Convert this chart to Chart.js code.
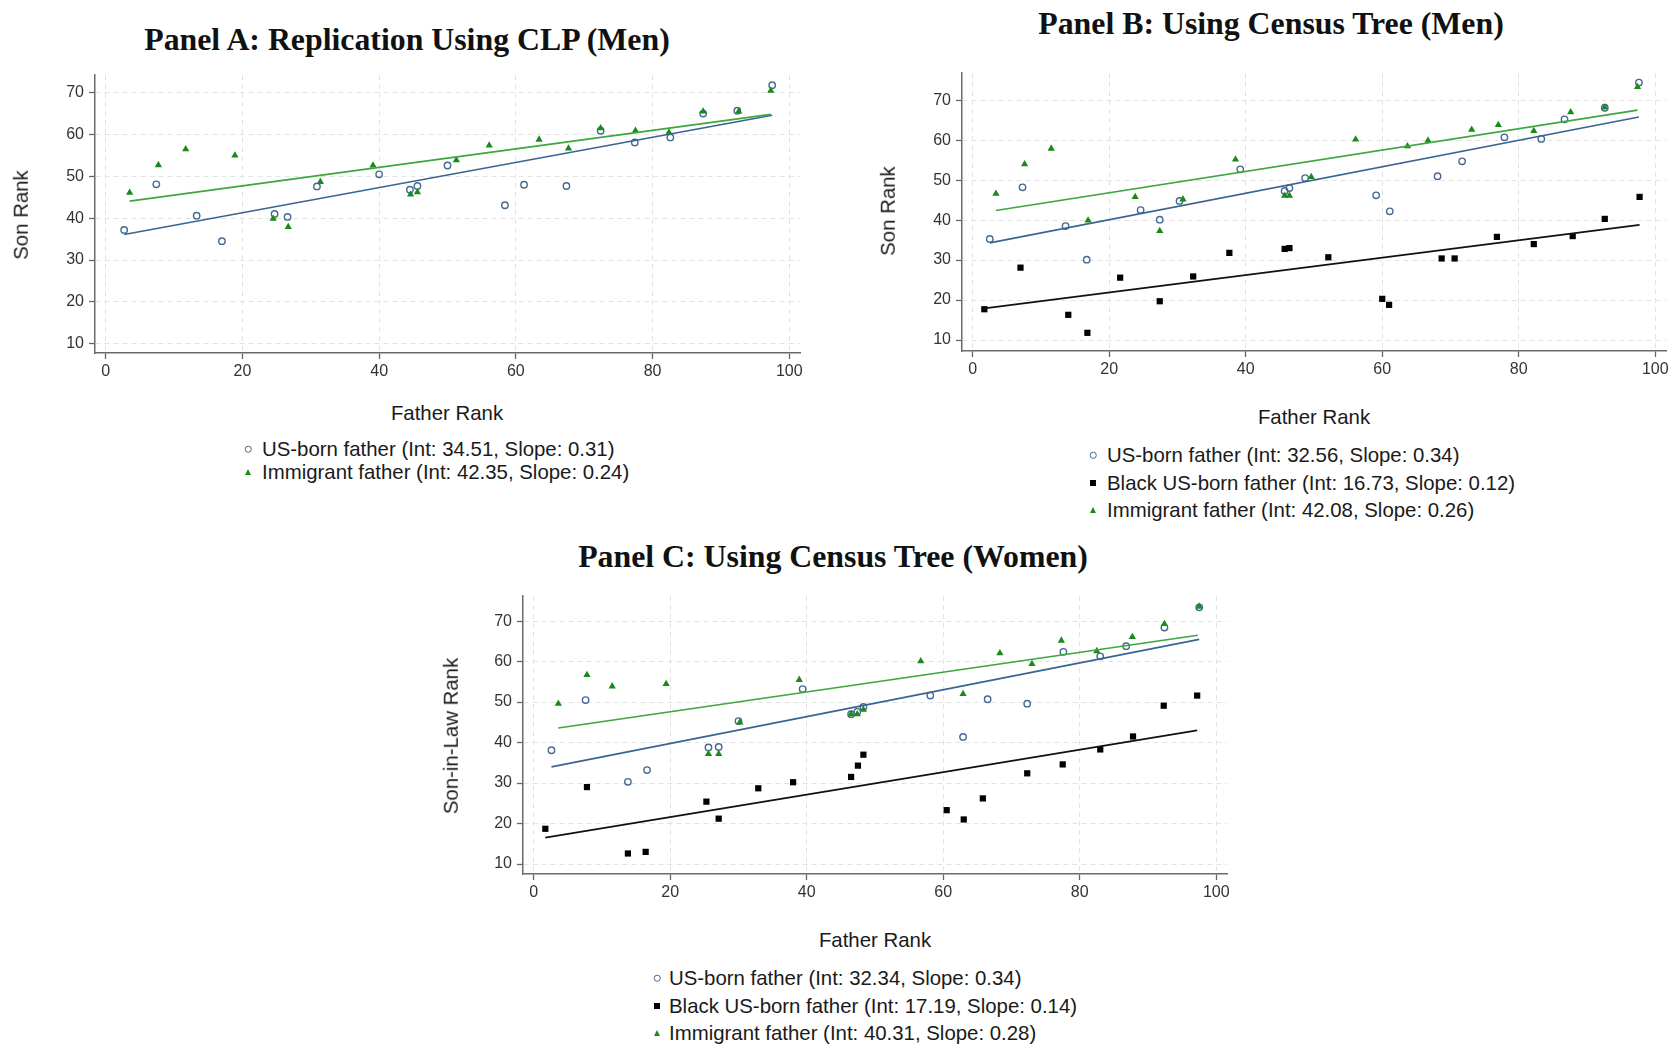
<!DOCTYPE html>
<html>
<head>
<meta charset="utf-8">
<script src="https://cdn.jsdelivr.net/npm/chart.js@4.4.1/dist/chart.umd.min.js"></script>
<style>
  body { margin: 0; background: #fff; }
  #page { position: relative; width: 1671px; height: 1044px; overflow: hidden;
          font-family: "Liberation Sans", Arial, sans-serif; color: #1a1a1a; }
  canvas { position: absolute; }
  .title { position: absolute; font-family: "Liberation Serif", "Times New Roman", serif; font-weight: bold;
           font-size: 31.8px; line-height: 1; white-space: nowrap; transform: translate(-50%, -50%); color: #111; }
  .axtitle { position: absolute; font-size: 20.4px; line-height: 1; white-space: nowrap; transform: translate(-50%, -50%); }
  .ytitle { transform: translate(-50%, -50%) rotate(-90deg); }
  .leg { position: absolute; font-size: 20.4px; line-height: 1; white-space: nowrap; transform: translateY(-50%); }
  .mk { position: absolute; transform: translate(-50%, -50%); box-sizing: border-box; }
  .mk.us { width: 6.5px; height: 6.5px; border: 1.3px solid #45698f; border-radius: 50%; }
  .mk.bl { width: 6px; height: 6px; background: #000; }
  .mk.im { width: 0; height: 0; border-left: 3.5px solid transparent; border-right: 3.5px solid transparent;
           border-bottom: 6px solid #1a8a1a; }
</style>
</head>
<body>
<div id="page">
  <div class="title" style="left:407px; top:40px;">Panel A: Replication Using CLP (Men)</div>
  <div class="title" style="left:1271px; top:24px;">Panel B: Using Census Tree (Men)</div>
  <div class="title" style="left:833px; top:557px;">Panel C: Using Census Tree (Women)</div>

  <canvas id="chartA"></canvas>
  <canvas id="chartB"></canvas>
  <canvas id="chartC"></canvas>

  <div class="axtitle ytitle" style="left:21px; top:215px;">Son Rank</div>
  <div class="axtitle ytitle" style="left:888px; top:211px;">Son Rank</div>
  <div class="axtitle ytitle" style="left:451px; top:736px;">Son-in-Law Rank</div>

  <div class="axtitle" style="left:447px; top:413px;">Father Rank</div>
  <div class="axtitle" style="left:1314px; top:417px;">Father Rank</div>
  <div class="axtitle" style="left:875px; top:940px;">Father Rank</div>

  <div id="legends"></div>
</div>

<script>
// x / y axis ticks
const xTicks = [0, 20, 40, 60, 80, 100];
const yTicks = [10, 20, 30, 40, 50, 60, 70];

// Panel A: CLP, men
const aUsX = [2.7, 7.4, 13.3, 17.0, 24.7, 26.6, 30.9, 40.0, 44.5, 45.6, 50.0, 58.4, 61.2, 67.4, 72.4, 77.4, 82.6, 87.4, 92.4, 97.5];
const aUsY = [37.2, 48.1, 40.6, 34.5, 41.0, 40.3, 47.6, 50.5, 46.8, 47.7, 52.6, 43.1, 48.0, 47.7, 60.9, 58.1, 59.3, 65.0, 65.7, 71.8];
const aImX = [3.5, 7.7, 11.7, 18.9, 24.5, 26.7, 31.4, 39.1, 44.6, 45.6, 51.3, 56.1, 63.4, 67.7, 72.4, 77.5, 82.4, 87.4, 92.6, 97.3];
const aImY = [46.1, 52.7, 56.5, 55.0, 39.9, 37.9, 48.7, 52.6, 45.7, 46.2, 53.9, 57.4, 58.8, 56.7, 61.5, 60.9, 60.5, 65.5, 65.5, 70.5];
const aUsFitX = [2.7, 97.5], aUsFitY = [36.1, 64.6];
const aImFitX = [3.5, 97.3], aImFitY = [44.1, 64.8];

// Panel B: census tree, men
const bUsX = [2.5, 7.3, 13.6, 16.7, 24.6, 27.4, 30.3, 39.2, 45.7, 46.4, 48.7, 59.1, 61.1, 68.1, 71.7, 77.9, 83.3, 86.7, 92.6, 97.6];
const bUsY = [35.3, 48.2, 38.5, 30.1, 42.5, 40.1, 44.8, 52.7, 47.3, 48.0, 50.5, 46.2, 42.2, 51.0, 54.7, 60.7, 60.3, 65.2, 68.1, 74.4];
const bBlX = [1.7, 7.0, 14.0, 16.8, 21.6, 27.4, 32.3, 37.6, 45.7, 46.4, 52.1, 60.0, 61.0, 68.7, 70.6, 76.8, 82.2, 87.9, 92.6, 97.7];
const bBlY = [17.7, 28.1, 16.3, 11.8, 25.6, 19.7, 25.9, 31.8, 32.8, 33.0, 30.7, 20.3, 18.8, 30.4, 30.4, 35.8, 34.0, 36.0, 40.3, 45.8];
const bImX = [3.4, 7.6, 11.5, 16.9, 23.8, 27.4, 30.8, 38.5, 45.7, 46.4, 49.6, 56.1, 63.7, 66.7, 73.1, 77.0, 82.2, 87.6, 92.6, 97.4];
const bImY = [46.6, 54.0, 57.9, 39.9, 45.8, 37.3, 45.2, 55.2, 46.1, 46.1, 50.8, 60.2, 58.5, 59.9, 62.6, 63.8, 62.3, 67.0, 68.2, 73.3];
const bUsFitX = [2.5, 97.6], bUsFitY = [34.3, 65.8];
const bBlFitX = [1.7, 97.7], bBlFitY = [17.9, 38.8];
const bImFitX = [3.4, 97.4], bImFitY = [42.4, 67.5];

// Panel C: census tree, women (son-in-law)
const cUsX = [2.6, 7.6, 13.8, 16.6, 25.6, 27.1, 30.0, 39.4, 46.5, 47.4, 48.3, 58.1, 62.9, 66.5, 72.3, 77.6, 83.0, 86.8, 92.4, 97.5];
const cUsY = [38.1, 50.5, 30.3, 33.2, 38.8, 38.9, 45.3, 53.2, 47.0, 47.6, 48.8, 51.6, 41.4, 50.7, 49.6, 62.4, 61.3, 63.8, 68.4, 73.4];
const cBlX = [1.7, 7.8, 13.8, 16.4, 25.3, 27.1, 32.9, 38.0, 46.5, 47.5, 48.3, 60.5, 63.0, 65.8, 72.3, 77.5, 83.0, 87.8, 92.3, 97.2];
const cBlY = [18.7, 29.0, 12.6, 13.0, 25.4, 21.2, 28.7, 30.2, 31.5, 34.3, 37.0, 23.3, 21.0, 26.2, 32.4, 34.6, 38.3, 41.5, 49.1, 51.6];
const cImX = [3.6, 7.8, 11.5, 19.4, 25.6, 27.1, 30.2, 38.9, 46.5, 47.4, 48.3, 56.7, 62.9, 68.3, 73.0, 77.3, 82.5, 87.7, 92.4, 97.5];
const cImY = [49.6, 56.7, 53.9, 54.5, 37.2, 37.2, 45.0, 55.5, 47.0, 47.0, 48.1, 60.1, 52.0, 62.1, 59.4, 65.2, 62.6, 66.1, 69.3, 73.6];
const cUsFitX = [2.6, 97.5], cUsFitY = [34.0, 65.5];
const cBlFitX = [1.7, 97.2], cBlFitY = [16.5, 43.0];
const cImFitX = [3.6, 97.3], cImFitY = [43.6, 66.5];

// legend texts
const legendA = ["US-born father (Int: 34.51, Slope: 0.31)", "Immigrant father (Int: 42.35, Slope: 0.24)"];
const legendB = ["US-born father (Int: 32.56, Slope: 0.34)", "Black US-born father (Int: 16.73, Slope: 0.12)", "Immigrant father (Int: 42.08, Slope: 0.26)"];
const legendC = ["US-born father (Int: 32.34, Slope: 0.34)", "Black US-born father (Int: 17.19, Slope: 0.14)", "Immigrant father (Int: 40.31, Slope: 0.28)"];

const BLUE = "#45698f", BLUE_LINE = "#3a6592";
const GREEN = "#1a8a1a", GREEN_LINE = "#3ea63e";

function pts(xs, ys) {
  return xs.map((x, i) => ({ x: x, y: ys[i] }));
}

function usSet(xs, ys) {
  return { data: pts(xs, ys), pointStyle: "circle", pointRadius: 3.2, pointBorderWidth: 1.4,
           pointBorderColor: BLUE, pointBackgroundColor: "rgba(0,0,0,0)" };
}
function blSet(xs, ys) {
  return { data: pts(xs, ys), pointStyle: "rect", pointRadius: 4.4, pointBorderWidth: 0,
           pointBackgroundColor: "#000", pointBorderColor: "#000" };
}
function imSet(xs, ys) {
  return { data: pts(xs, ys), pointStyle: "triangle", pointRadius: 4.2, pointBorderWidth: 0,
           pointBackgroundColor: GREEN, pointBorderColor: GREEN };
}
function fitSet(xs, ys, color) {
  return { data: pts(xs, ys), showLine: true, pointRadius: 0, borderColor: color, borderWidth: 1.7 };
}

function makePanel(id, area, yMin, yMax, datasets) {
  // padT must exceed the label padding Chart.js reserves above the y axis
  const W = 70, H = 40, padT = 24, padR = 20;
  const cv = document.getElementById(id);
  cv.width = W + (area.r - area.l) + padR;
  cv.height = padT + (area.b - area.t) + H;
  cv.style.left = (area.l - W) + "px";
  cv.style.top = (area.t - padT) + "px";

  const tickFont = { family: "'Liberation Sans', Arial, sans-serif", size: 16 };
  new Chart(cv, {
    type: "scatter",
    data: { datasets: datasets },
    options: {
      responsive: false,
      animation: false,
      devicePixelRatio: 1,
      layout: { padding: { top: padT, right: padR, left: 0, bottom: 0 } },
      plugins: { legend: { display: false }, tooltip: { enabled: false } },
      scales: {
        x: {
          type: "linear", min: -1.57, max: 101.57,
          afterFit: (s) => { s.height = H; },
          afterBuildTicks: (s) => { s.ticks = xTicks.map((v) => ({ value: v })); },
          ticks: { font: tickFont, color: "#333", padding: 3, maxRotation: 0 },
          grid: { color: "#e3e3e3", lineWidth: 1, tickLength: 6, tickColor: "#666", tickWidth: 1.3 },
          border: { display: true, color: "#6a6a6a", width: 1.5, dash: [5, 4] },
        },
        y: {
          type: "linear", min: yMin, max: yMax,
          afterFit: (s) => { s.width = W; },
          afterBuildTicks: (s) => { s.ticks = yTicks.map((v) => ({ value: v })); },
          ticks: { font: tickFont, color: "#333", padding: 5 },
          grid: { color: "#e3e3e3", lineWidth: 1, tickLength: 6, tickColor: "#666", tickWidth: 1.3 },
          border: { display: true, color: "#6a6a6a", width: 1.5, dash: [5, 4] },
        },
      },
    },
  });
}

makePanel("chartA", { l: 95, r: 800, t: 75, b: 353 }, 7.78, 74.23, [
  fitSet(aImFitX, aImFitY, GREEN_LINE),
  fitSet(aUsFitX, aUsFitY, BLUE_LINE),
  imSet(aImX, aImY),
  usSet(aUsX, aUsY),
]);

makePanel("chartB", { l: 962, r: 1666, t: 73, b: 351 }, 7.25, 76.8, [
  fitSet(bImFitX, bImFitY, GREEN_LINE),
  fitSet(bBlFitX, bBlFitY, "#111"),
  fitSet(bUsFitX, bUsFitY, BLUE_LINE),
  imSet(bImX, bImY),
  blSet(bBlX, bBlY),
  usSet(bUsX, bUsY),
]);

makePanel("chartC", { l: 523, r: 1227, t: 596, b: 874 }, 7.53, 76.2, [
  fitSet(cImFitX, cImFitY, GREEN_LINE),
  fitSet(cBlFitX, cBlFitY, "#111"),
  fitSet(cUsFitX, cUsFitY, BLUE_LINE),
  imSet(cImX, cImY),
  blSet(cBlX, cBlY),
  usSet(cUsX, cUsY),
]);

// legends below each panel (html, one row per series)
function addLegend(labels, kinds, markX, textX, rows) {
  const box = document.getElementById("legends");
  labels.forEach((txt, i) => {
    const mk = document.createElement("div");
    mk.className = "mk " + kinds[i];
    mk.style.left = markX + "px";
    mk.style.top = rows[i] + "px";
    box.appendChild(mk);
    const t = document.createElement("div");
    t.className = "leg";
    t.style.left = textX + "px";
    t.style.top = rows[i] + "px";
    t.textContent = txt;
    box.appendChild(t);
  });
}

addLegend(legendA, ["us", "im"], 248, 262, [449, 472]);
addLegend(legendB, ["us", "bl", "im"], 1093, 1107, [455, 483, 510]);
addLegend(legendC, ["us", "bl", "im"], 657, 669, [978, 1006, 1033]);
</script>
</body>
</html>
